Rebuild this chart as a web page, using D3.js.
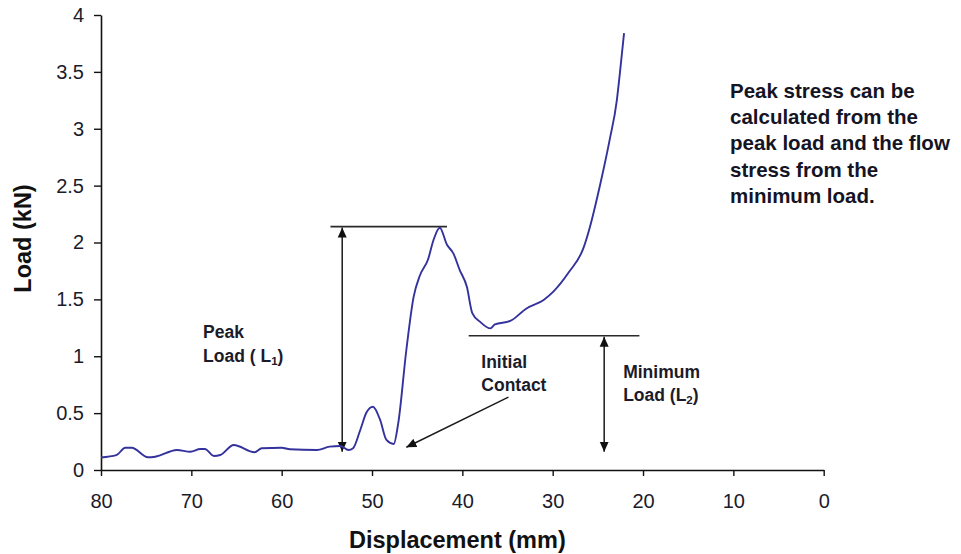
<!DOCTYPE html>
<html>
<head>
<meta charset="utf-8">
<script src="https://cdn.jsdelivr.net/npm/d3@7"></script>
<style>
  html, body { margin: 0; padding: 0; background: #fff; }
  svg { display: block; font-family: "Liberation Sans", Arial, sans-serif; }
</style>
</head>
<body>
<svg id="chart" width="961" height="554"></svg>
<script>
// Load–displacement trace of the compression test
const displacement = [80, 78.3, 77.3, 76.6, 74.8, 74.0, 71.6, 70.1, 69.0, 68.5,
  67.5, 66.8, 65.3, 63.0, 62.2, 60.0, 59.1, 56.1, 54.7, 53.5,
  52.6, 52.1, 51.3, 50.6, 49.9, 49.1, 48.4, 47.6, 47.1, 46.2,
  45.4, 44.7, 43.8, 43.2, 42.5, 41.7, 41.0, 40.3, 39.5, 38.9, 38.0,
  36.9, 36.4, 34.7, 32.9, 31.0, 29.9, 28.2, 26.6, 25.9, 24.8,
  23.7, 22.9, 22.6, 22.1];
const load = [0.11, 0.13, 0.196, 0.196, 0.112, 0.117, 0.176, 0.161, 0.185, 0.185,
  0.123, 0.132, 0.22, 0.156, 0.191, 0.196, 0.182, 0.176, 0.205, 0.211,
  0.176, 0.191, 0.352, 0.507, 0.556, 0.44, 0.264, 0.229, 0.41, 1.055,
  1.52, 1.71, 1.85, 2.02, 2.13, 1.98, 1.905, 1.76, 1.61, 1.38, 1.30,
  1.245, 1.28, 1.31, 1.42, 1.495, 1.57, 1.74, 1.95, 2.13, 2.49,
  2.90, 3.25, 3.46, 3.84];

// Axis ticks
const xTicks = [80, 70, 60, 50, 40, 30, 20, 10, 0];
const yTicks = [0, 0.5, 1, 1.5, 2, 2.5, 3, 3.5, 4];

// Reference levels marked on the trace
const peakLoad = 2.14;
const minLoad = 1.18;
const peakLine = [54.6, 41.7];     // displacement span of the peak level line
const minLine = [39.3, 20.4];      // displacement span of the minimum level line
const peakArrowAt = 53.3;
const minArrowAt = 24.3;
const arrowFloor = 0.16;
const contactArrow = { from: [34.9, 0.64], to: [46.2, 0.20] };

const notes = [
  { lines: ["Peak", "Load ( L|1|)"], at: [68.7, 1.16] },
  { lines: ["Initial", "Contact"], at: [37.9, 0.90] },
  { lines: ["Minimum", "Load (L|2|)"], at: [22.2, 0.81] }
];
const sideNote = ["Peak stress can be", "calculated from the", "peak load and the flow",
  "stress from the", "minimum load."];

const svg = d3.select("#chart");
const plotLeft = 101, plotRight = 823.7, plotTop = 15, plotBottom = 470;

const x = d3.scaleLinear().domain([80, 0]).range([plotLeft, plotRight]);
const y = d3.scaleLinear().domain([0, 4]).range([plotBottom, plotTop]);

// arrow head marker
const defs = svg.append("defs");
defs.append("marker")
  .attr("id", "head")
  .attr("viewBox", "0 0 10 10")
  .attr("refX", 10).attr("refY", 5)
  .attr("markerWidth", 10).attr("markerHeight", 10)
  .attr("markerUnits", "userSpaceOnUse")
  .attr("orient", "auto-start-reverse")
  .append("path")
  .attr("d", "M0,0.5 L10,5 L0,9.5 Z")
  .attr("fill", "#111");

// axes
const xAxis = svg.append("g")
  .attr("transform", `translate(0,${plotBottom})`)
  .call(d3.axisBottom(x).tickValues(xTicks).tickSize(6).tickSizeOuter(0).tickPadding(18).tickFormat(d3.format("d")));
const yAxis = svg.append("g")
  .attr("transform", `translate(${plotLeft},0)`)
  .call(d3.axisLeft(y).tickValues(yTicks).tickSize(7).tickSizeOuter(0).tickPadding(10).tickFormat(d => String(d)));

[xAxis, yAxis].forEach(g => {
  g.select(".domain").attr("stroke", "#111").attr("stroke-width", 1.6);
  g.selectAll(".tick line").attr("stroke", "#111").attr("stroke-width", 1.4);
  g.selectAll(".tick text")
    .attr("fill", "#1b1b2a")
    .style("font-size", "20px")
    .style("font-family", "'Liberation Sans', Arial, sans-serif");
});

// axis titles
svg.append("text")
  .attr("x", (plotLeft + plotRight) / 2 - 5)
  .attr("y", 548)
  .attr("text-anchor", "middle")
  .attr("font-weight", "bold")
  .attr("font-size", 23.5)
  .attr("fill", "#111")
  .text("Displacement (mm)");
svg.append("text")
  .attr("transform", `translate(31,${(plotTop + plotBottom) / 2 - 4}) rotate(-90)`)
  .attr("text-anchor", "middle")
  .attr("font-weight", "bold")
  .attr("font-size", 23.5)
  .attr("fill", "#111")
  .text("Load (kN)");

// level lines
const levelStyle = sel => sel.attr("stroke", "#2a2a2a").attr("stroke-width", 1.6).attr("fill", "none");
svg.append("line")
  .attr("x1", x(peakLine[0])).attr("x2", x(peakLine[1]))
  .attr("y1", y(peakLoad)).attr("y2", y(peakLoad))
  .call(levelStyle);
svg.append("line")
  .attr("x1", x(minLine[0])).attr("x2", x(minLine[1]))
  .attr("y1", y(minLoad)).attr("y2", y(minLoad))
  .call(levelStyle);

// double-headed measurement arrows
const arrowStyle = sel => sel.attr("stroke", "#1a1a1a").attr("stroke-width", 1.5)
  .attr("marker-start", "url(#head)").attr("marker-end", "url(#head)");
svg.append("line")
  .attr("x1", x(peakArrowAt)).attr("x2", x(peakArrowAt))
  .attr("y1", y(peakLoad) + 1).attr("y2", y(arrowFloor))
  .call(arrowStyle);
svg.append("line")
  .attr("x1", x(minArrowAt)).attr("x2", x(minArrowAt))
  .attr("y1", y(minLoad) + 1).attr("y2", y(arrowFloor))
  .call(arrowStyle);

// initial contact pointer
svg.append("line")
  .attr("x1", x(contactArrow.from[0])).attr("y1", y(contactArrow.from[1]))
  .attr("x2", x(contactArrow.to[0])).attr("y2", y(contactArrow.to[1]))
  .attr("stroke", "#1a1a1a").attr("stroke-width", 1.4)
  .attr("marker-end", "url(#head)");

// the trace
const pts = displacement.map((d, i) => [d, load[i]]);
svg.append("path")
  .datum(pts)
  .attr("fill", "none")
  .attr("stroke", "#34329c")
  .attr("stroke-width", 1.9)
  .attr("stroke-linejoin", "round")
  .attr("d", d3.line().x(d => x(d[0])).y(d => y(d[1])).curve(d3.curveMonotoneX));

// annotation labels; "|n|" marks a subscript
notes.forEach(n => {
  const t = svg.append("text")
    .attr("x", x(n.at[0])).attr("y", y(n.at[1]))
    .attr("font-weight", "bold").attr("font-size", 17.5).attr("fill", "#1b1b2a");
  n.lines.forEach((ln, i) => {
    const parts = ln.split("|");
    parts.forEach((p, j) => {
      const span = t.append("tspan").text(p);
      if (j === 0) span.attr("x", x(n.at[0])).attr("dy", i === 0 ? 0 : 23.5);
      if (j === 1) span.attr("font-size", 11.5).attr("baseline-shift", "-25%");
    });
  });
});

// side note
const side = svg.append("text")
  .attr("x", 730).attr("y", 98)
  .attr("font-weight", "bold").attr("font-size", 20.5).attr("fill", "#141424");
sideNote.forEach((ln, i) => {
  side.append("tspan").attr("x", 730).attr("dy", i === 0 ? 0 : 26.2).text(ln);
});
</script>
</body>
</html>
